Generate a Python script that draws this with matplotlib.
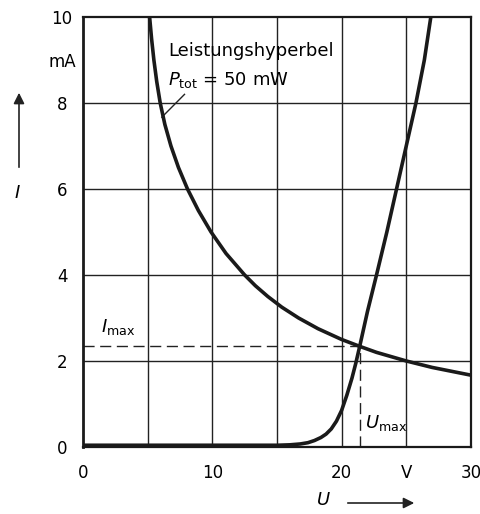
import matplotlib
matplotlib.use('Agg')
import matplotlib.pyplot as plt

# Leistungshyperbel P_tot = 50 mW
u_hyp = [5.15, 5.30, 5.48, 5.70, 5.97, 6.33, 6.80, 7.38, 8.08, 8.92, 9.9,
         11.06, 12.5, 13.33, 14.29, 15.38, 16.67, 18.18, 20.0, 21.4, 22.7,
         25.0, 27.0, 30.0]
i_hyp = [10.0, 9.5, 9.0, 8.5, 8.0, 7.5, 7.0, 6.5, 6.0, 5.5, 5.0,
         4.5, 4.0, 3.75, 3.5, 3.25, 3.0, 2.75, 2.5, 2.34, 2.2,
         2.0, 1.85, 1.67]

# Kennlinie
u_kenn = [0, 10, 15, 16, 16.8, 17.4, 17.9, 18.4, 18.8, 19.2, 19.6, 20.0, 20.4,
          20.8, 21.1, 21.4, 22.0, 22.7, 23.5, 24.25, 25.0, 25.75, 26.4, 26.9]
i_kenn = [0.04, 0.04, 0.04, 0.05, 0.07, 0.10, 0.15, 0.22, 0.30, 0.42, 0.60, 0.85,
          1.2, 1.6, 1.95, 2.34, 3.15, 4.0, 5.0, 6.0, 7.0, 8.0, 9.0, 10.0]

# Arbeitspunkt
u_max = 21.4
i_max = 2.34

x_ticks = [0, 10, 20, 25, 30]
x_labels = ['0', '10', '20', 'V', '30']
y_ticks = [0, 2, 4, 6, 8, 9, 10]
y_labels = ['0', '2', '4', '6', '8', 'mA', '10']

fig = plt.figure(figsize=(4.81, 5.14), dpi=100)
ax = fig.add_axes([0.1726, 0.1304, 0.8064, 0.8366])

ax.set_xlim(0, 30)
ax.set_ylim(0, 10)

# Gitter
for x in [5, 10, 15, 20, 25]:
    ax.axvline(x, color='#222222', lw=1.0, zorder=1)
for y in [2, 4, 6, 8]:
    ax.axhline(y, color='#222222', lw=1.0, zorder=1)

ax.plot(u_hyp, i_hyp, color='#1a1a1a', lw=2.6, zorder=3,
        solid_capstyle='butt', solid_joinstyle='round')
ax.plot(u_kenn, i_kenn, color='#1a1a1a', lw=2.6, zorder=3,
        solid_capstyle='butt', solid_joinstyle='round')

# gestrichelte Hilfslinien
ax.plot([0, u_max], [i_max, i_max], color='#222222', lw=1.0, dashes=(8, 4), zorder=2)
ax.plot([u_max, u_max], [0, i_max], color='#222222', lw=1.0, dashes=(8, 4), zorder=2)

for s in ax.spines.values():
    s.set_linewidth(1.6)
    s.set_color('#1a1a1a')
ax.spines['left'].set_linewidth(2.0)

ax.set_xticks(x_ticks)
ax.set_xticklabels(x_labels)
ax.set_yticks(y_ticks)
ax.set_yticklabels(y_labels, ha='center')
ax.tick_params(axis='x', length=0, pad=12, labelsize=12)
ax.tick_params(axis='y', length=0, pad=15, labelsize=12)

# Beschriftungen im Diagramm
ax.text(6.6, 9.22, 'Leistungshyperbel', fontsize=13, ha='left', va='center')
ax.text(6.6, 8.53, r'$P_{\mathrm{tot}}$ = 50 mW', fontsize=13, ha='left', va='center')
ax.plot([6.1, 7.85], [7.67, 8.2], color='#222222', lw=1.0)
ax.text(1.4, 2.78, r'$I_{\mathrm{max}}$', fontsize=13, ha='left', va='center')
ax.text(21.8, 0.55, r'$U_{\mathrm{max}}$', fontsize=13, ha='left', va='center')

# Achsenbezeichnungen mit Pfeilen
fig.text(17 / 481, 1 - 193 / 514, r'$I$', fontsize=13, ha='center', va='center')
ax.annotate('', xy=(19 / 481, 1 - 90 / 514), xytext=(19 / 481, 1 - 170 / 514),
            xycoords='figure fraction', textcoords='figure fraction',
            arrowprops=dict(arrowstyle='-|>', color='#222222', lw=1.2,
                            mutation_scale=16))
fig.text(323 / 481, 1 - 500 / 514, r'$U$', fontsize=13, ha='center', va='center')
ax.annotate('', xy=(417 / 481, 1 - 503 / 514), xytext=(345 / 481, 1 - 503 / 514),
            xycoords='figure fraction', textcoords='figure fraction',
            arrowprops=dict(arrowstyle='-|>', color='#222222', lw=1.2,
                            mutation_scale=16))

fig.savefig('out.png', dpi=100)
